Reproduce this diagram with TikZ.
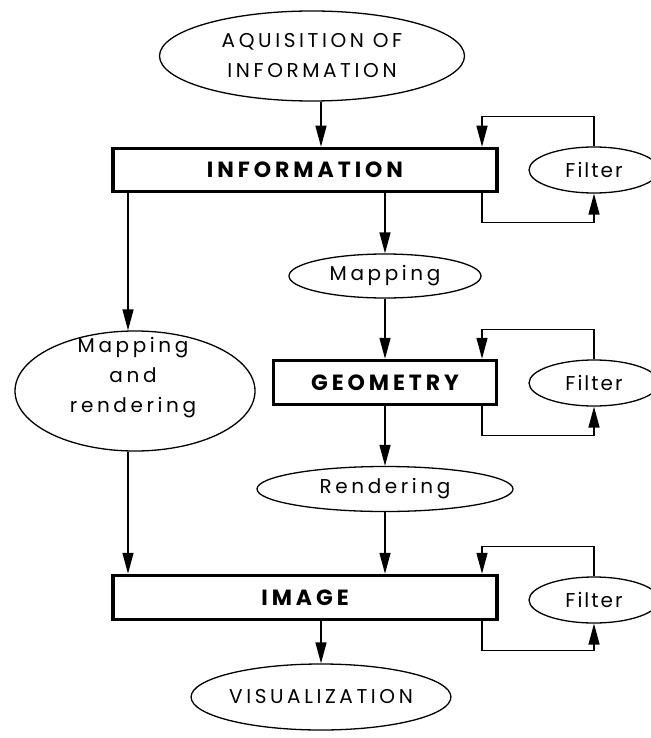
\documentclass[tikz,border=0pt]{standalone}
\usepackage{fontspec}
\setmainfont{Poppins}[LetterSpace=18]
\usepackage{tikz}
\usetikzlibrary{arrows.meta, shapes.geometric}
\tikzset{
  ell/.style={draw, ellipse, line width=1.3pt, inner sep=0pt, align=center, font=\fontsize{20}{30}\selectfont},
  blk/.style={draw, rectangle, line width=3.5pt, inner sep=0pt, font=\fontsize{22}{26}\selectfont\bfseries},
  flt/.style={ell, minimum width=130pt, minimum height=46pt, font=\fontsize{20}{30}\selectfont\addfontfeature{LetterSpace=10}},
  arr/.style={-{Triangle[length=21pt, width=11pt]}, line width=1.4pt},
}

\begin{document}
\begin{tikzpicture}[x=1pt, y=-1pt]
\useasboundingbox (0,0) rectangle (650,738);
\node[ell, minimum width=305pt, minimum height=90pt] (acq) at (312,56) {AQUISITION OF\\INFORMATION};
\node[blk, minimum width=384pt, minimum height=43pt] (info) at (305,170) {INFORMATION};
\node[ell, minimum width=192pt, minimum height=44pt] (map) at (385,276) {Mapping};
\node[ell, minimum width=240pt, minimum height=120pt] (lmap) at (135,391) {};
\node[align=center, font=\fontsize{20}{30}\selectfont] (lmaptxt) at (133,378) {Mapping\\and\\rendering};
\node[blk, minimum width=223pt, minimum height=44pt] (geom) at (385,382.5) {GEOMETRY};
\node[ell, minimum width=256pt, minimum height=45pt] (rend) at (385,489) {Rendering};
\node[blk, minimum width=384pt, minimum height=44pt] (image) at (305,597.5) {IMAGE};
\node[ell, minimum width=252pt, minimum height=66pt] (vis) at (321,697) {VISUALIZATION};
\node[flt] (ifilt) at (594,170) {Filter};
\node[flt] (gfilt) at (594,383) {Filter};
\node[flt] (mfilt) at (594,600) {Filter};
\coordinate (lcol) at (128,0);
\coordinate (mid) at (321,0);
\coordinate (lane) at (482,0);
\draw[arr] (mid |- acq.south) -- (mid |- info.north);
\draw[arr] (lcol |- info.south) -- (lcol |- lmap.north);
\draw[arr] (lcol |- lmap.south) -- (lcol |- image.north);
\draw[arr] (map |- info.south) -- (map);
\draw[arr] (map) -- (geom);
\draw[arr] (geom) -- (rend);
\draw[arr] (rend) -- (rend |- image.north);
\draw[arr] (mid |- image.south) -- (vis);
\foreach \b/\f in {info/ifilt, geom/gfilt, image/mfilt} {
  \draw[arr] (\f.north) -- ++(0,-30) -| (lane |- \b.north);
  \draw[arr] (lane |- \b.south) -- ++(0,29) -| (\f.south);
}
\end{tikzpicture}
\end{document}
